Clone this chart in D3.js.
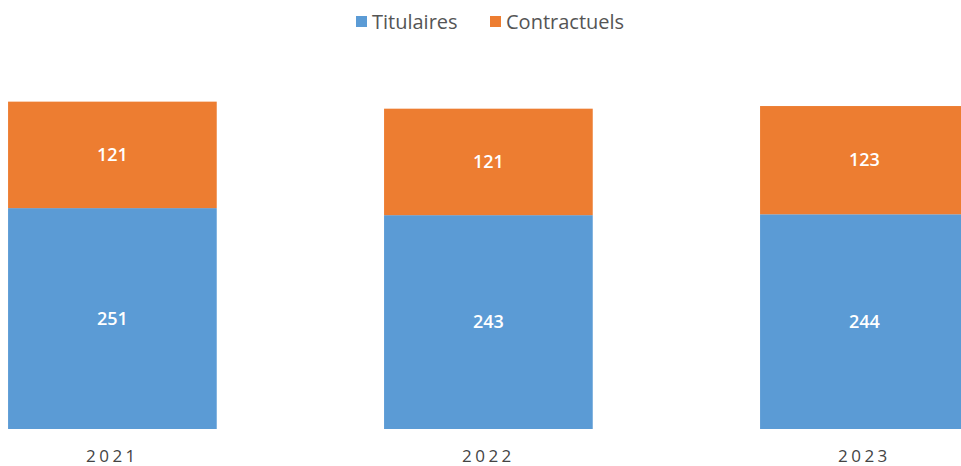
<!DOCTYPE html>
<html>
<head>
<meta charset="utf-8">
<script src="https://cdn.jsdelivr.net/npm/d3@7"></script>
<style>
  body { margin: 0; background: #fff; }
  svg { display: block; }
</style>
</head>
<body>
<svg id="chart" width="961" height="466"></svg>
<script>
const years = ["2021", "2022", "2023"];
const titulaires = [251, 243, 244];
const contractuels = [121, 121, 123];
const seriesNames = ["Titulaires", "Contractuels"];
const seriesColors = ["#5b9bd5", "#ed7d31"];

const svg = d3.select("#chart");

const x = d3.scaleBand().domain(years).range([-75.6, 1052.4]).paddingInner(0.445).paddingOuter(0.2225);
const y = d3.scaleLinear().domain([0, 400]).range([429, 77]);

const rows = years.map((yr, i) => ({ year: yr, Titulaires: titulaires[i], Contractuels: contractuels[i] }));
const stack = d3.stack().keys(seriesNames)(rows);

const g = svg.append("g");
stack.forEach((layer, li) => {
  const lg = g.append("g").attr("fill", seriesColors[li]);
  lg.selectAll("rect").data(layer).join("rect")
    .attr("x", d => x(d.data.year))
    .attr("width", x.bandwidth())
    .attr("y", d => y(d[1]))
    .attr("height", d => y(d[0]) - y(d[1]));
  g.append("g").selectAll("text").data(layer).join("text")
    .attr("x", d => x(d.data.year) + x.bandwidth() / 2)
    .attr("y", d => (y(d[0]) + y(d[1])) / 2)
    .attr("dy", "0.35em")
    .attr("text-anchor", "middle")
    .attr("fill", "#fff")
    .attr("font-family", "'Open Sans', sans-serif")
    .attr("font-size", 18)
    .attr("font-weight", 600)
    .text(d => d.data[layer.key]);
});

// x axis labels
const xAxis = d3.axisBottom(x).tickSize(0).tickPadding(0);
const ax = svg.append("g").attr("transform", "translate(0,450)").call(xAxis);
ax.select(".domain").remove();
ax.selectAll("text")
  .attr("font-family", "'Open Sans', sans-serif")
  .attr("font-size", 17)
  .attr("letter-spacing", "3.5px")
  .attr("fill", "#444");

// legend
const legend = svg.append("g");
const items = [
  { name: seriesNames[0], color: seriesColors[0], x: 356 },
  { name: seriesNames[1], color: seriesColors[1], x: 490 }
];
items.forEach(it => {
  legend.append("rect").attr("x", it.x).attr("y", 16).attr("width", 11).attr("height", 11).attr("fill", it.color);
  legend.append("text").attr("x", it.x + 16).attr("y", 22).attr("dy", "0.35em")
    .attr("font-family", "'Open Sans', sans-serif").attr("font-size", 20).attr("fill", "#555")
    .text(it.name);
});
</script>
</body>
</html>
